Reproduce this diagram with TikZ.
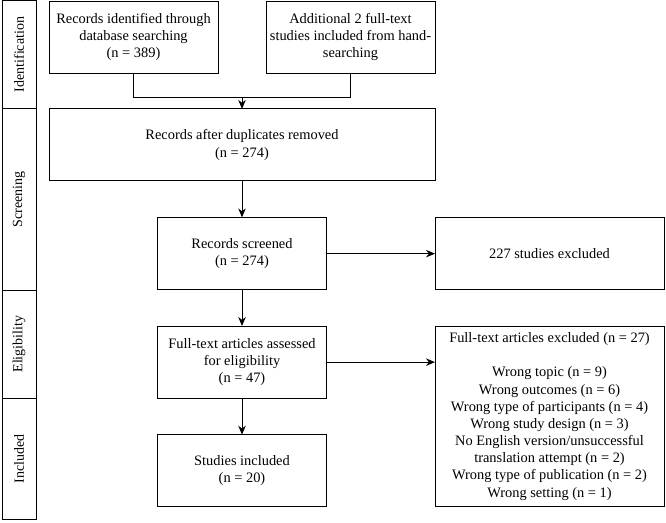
\documentclass[tikz,border=0pt]{standalone}
\usepackage{fontspec}
\setmainfont{Liberation Serif}
\usetikzlibrary{arrows.meta}
\begin{document}
\begin{tikzpicture}[x=1pt,y=-1pt,
  box/.style={draw, line width=1pt, align=center, inner sep=2pt, outer sep=0pt,
    font=\fontsize{14.4}{17.2}\selectfont},
  stage/.style={draw, line width=1pt, rotate=90, minimum height=34pt, inner sep=0pt, outer sep=0pt,
    font=\fontsize{14}{16}\selectfont},
  conn/.style={line width=1pt},
  arr/.style={line width=1pt, -{Stealth[length=9pt,width=7.5pt]}}]
\useasboundingbox (0,0) rectangle (666,522);
% stage column
\node[stage, minimum width=108.7pt] (s1) at (19,54.6) {Identification};
\node[stage, minimum width=181.3pt] (s2) at (19,199.35) {Screening};
\node[stage, minimum width=108.3pt] (s3) at (19,344.15) {Eligibility};
\node[stage, minimum width=121pt] (s4) at (19,458.8) {Included};
% boxes
\node[box, minimum width=169pt, minimum height=72pt] (b1) at (133.5,37) {Records identified through\\database searching\\(n = 389)};
\node[box, minimum width=169pt, minimum height=72pt] (b2) at (350.5,37) {Additional 2 full-text\\studies included from hand-\\searching};
\node[box, minimum width=386pt, minimum height=72pt] (b3) at (242,144.9) {Records after duplicates removed\\(n = 274)};
\node[box, minimum width=169.4pt, minimum height=72.5pt] (b4) at (242,253.65) {Records screened\\(n = 274)};
\node[box, minimum width=229pt, minimum height=72.5pt] (b5) at (549.5,253.65) {227 studies excluded};
\node[box, minimum width=169.4pt, minimum height=72.3pt] (b6) at (242,362.15) {Full-text articles assessed\\for eligibility\\(n = 47)};
\node[box, minimum width=169.4pt, minimum height=72pt] (b7) at (242,470.7) {Studies included\\(n = 20)};
\node[box, minimum width=229pt, minimum height=180.7pt] (b8) at (549.5,416.35) {Full-text articles excluded (n = 27)\\[17.2pt]Wrong topic (n = 9)\\Wrong outcomes (n = 6)\\Wrong type of participants (n = 4)\\Wrong study design (n = 3)\\No English version/unsuccessful\\translation attempt (n = 2)\\Wrong type of publication (n = 2)\\Wrong setting (n = 1)};
% connectors
\coordinate (m) at (242,97);
\draw[conn] (b1.south) |- (m);
\draw[conn] (b2.south) |- (m);
\draw[arr] (m) -- (b3.north);
\draw[arr] (b3.south) -- (b4.north);
\draw[arr] (b4.east) -- (b5.west);
\draw[arr] (b4.south) -- (b6.north);
\draw[arr] (b6.south) -- (b7.north);
\draw[arr] (b6.east) -- (b6.east -| b8.west);
\end{tikzpicture}
\end{document}
